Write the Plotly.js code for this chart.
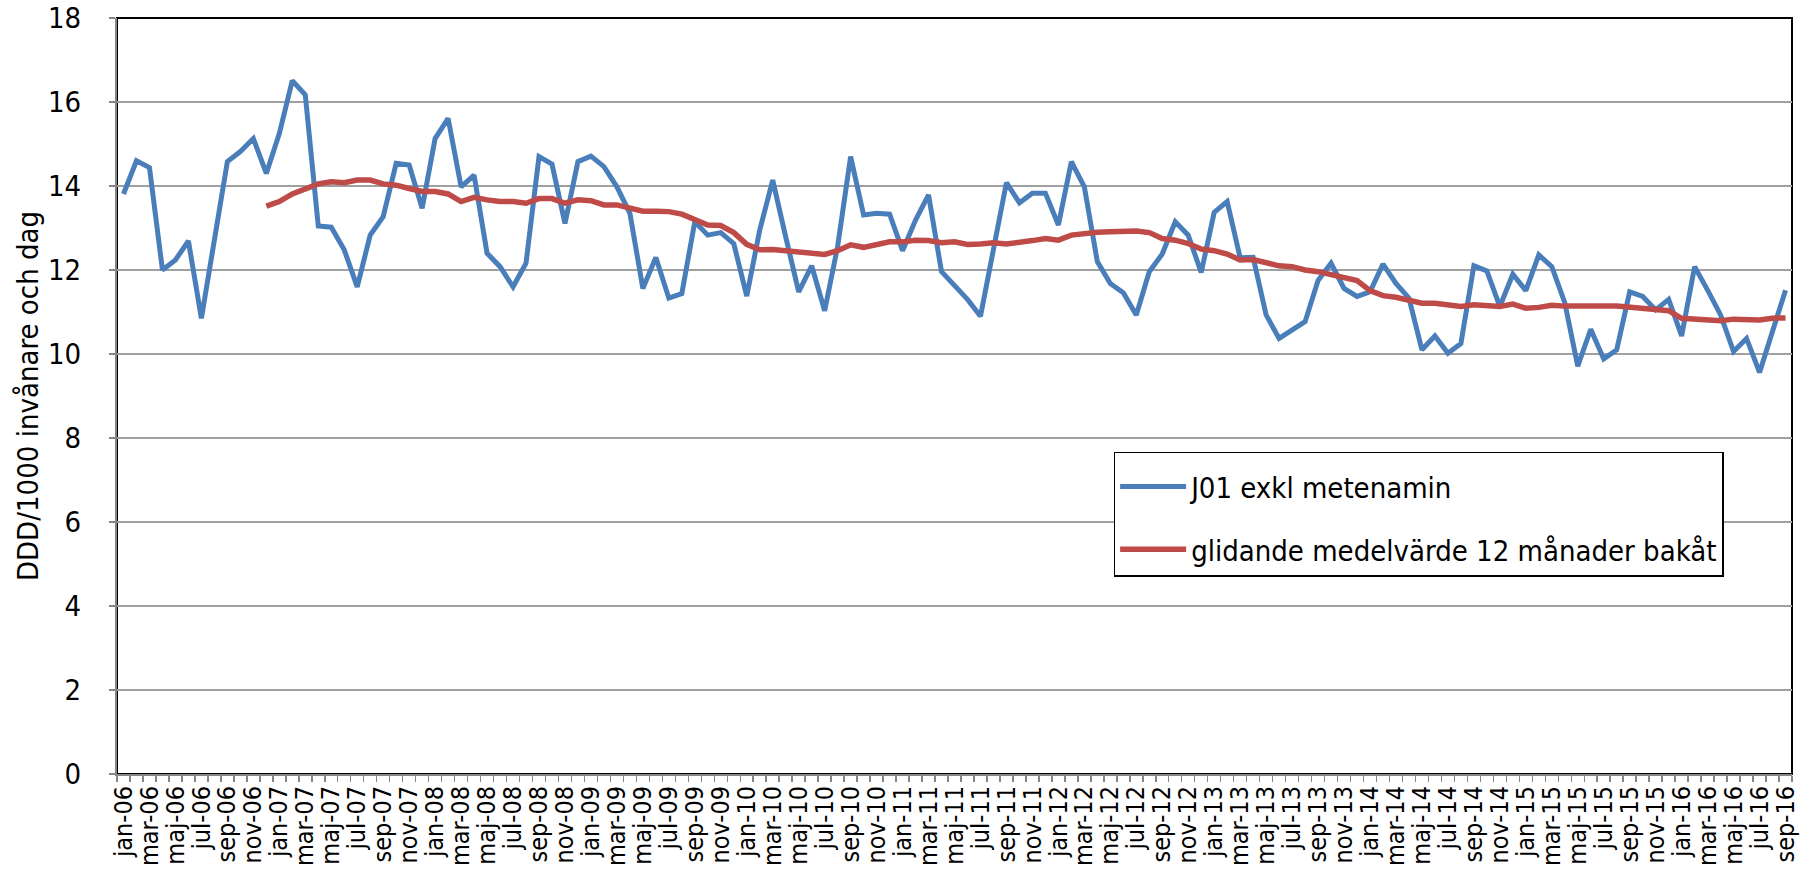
<!DOCTYPE html>
<html>
<head>
<meta charset="utf-8">
<script src="https://cdn.plot.ly/plotly-3.0.1.min.js"></script>
<style>
  html, body { margin: 0; padding: 0; background: #ffffff; }
  #chart { width: 1812px; height: 870px; }
</style>
</head>
<body>
<div id="chart"></div>
<script>
// Month categories jan-06 ... sep-16
const monthNames = ["jan","feb","mar","apr","maj","jun","jul","aug","sep","okt","nov","dec"];
const years = ["06","07","08","09","10","11","12","13","14","15","16"];
const months = [];
years.forEach(function (yy) {
  monthNames.forEach(function (m) {
    if (months.length < 129) months.push(m + "-" + yy);
  });
});

// J01 exkl metenamin (DDD/1000 invånare och dag), jan-06 .. sep-16
const j01 = [
  13.81, 14.60, 14.44, 12.00, 12.24, 12.69, 10.85, 12.67, 14.58, 14.82, 15.13, 14.30,
  15.25, 16.51, 16.17, 13.05, 13.02, 12.48, 11.60, 12.83, 13.27, 14.54, 14.50, 13.47,
  15.13, 15.61, 13.98, 14.26, 12.40, 12.08, 11.60, 12.16, 14.70, 14.52, 13.11, 14.58,
  14.71, 14.46, 13.98, 13.35, 11.56, 12.30, 11.33, 11.44, 13.15, 12.83, 12.89, 12.63,
  11.38, 12.95, 14.14, 12.79, 11.48, 12.10, 11.03, 12.56, 14.70, 13.31, 13.35, 13.33,
  12.46, 13.19, 13.79, 11.96, 11.64, 11.30, 10.90, 12.56, 14.08, 13.60, 13.83, 13.83,
  13.07, 14.58, 13.98, 12.20, 11.68, 11.46, 10.93, 11.96, 12.38, 13.15, 12.83, 11.94,
  13.37, 13.63, 12.29, 12.30, 10.93, 10.37, 10.57, 10.77, 11.75, 12.16, 11.56, 11.37,
  11.48, 12.14, 11.68, 11.33, 10.10, 10.43, 10.02, 10.25, 12.10, 11.98, 11.13, 11.90,
  11.51, 12.36, 12.08, 11.22, 9.71, 10.59, 9.88, 10.10, 11.48, 11.37, 11.05, 11.30,
  10.43, 12.08, 11.52, 10.93, 10.06, 10.37, 9.56, 10.57, 11.52
];

// glidande medelvärde 12 månader bakåt (starts dec-06)
const moving = [
  null, null, null, null, null, null, null, null, null, null, null, 13.52,
  13.63, 13.81, 13.94, 14.05, 14.10, 14.08, 14.14, 14.14, 14.05, 14.02, 13.94, 13.87,
  13.87, 13.81, 13.63, 13.73, 13.67, 13.63, 13.63, 13.59, 13.70, 13.70, 13.59, 13.67,
  13.65, 13.55, 13.55, 13.47, 13.40, 13.40, 13.39, 13.33, 13.21, 13.07, 13.06, 12.89,
  12.61, 12.48, 12.49, 12.46, 12.44, 12.43, 12.37, 12.46, 12.60, 12.54, 12.61, 12.67,
  12.67, 12.71, 12.70, 12.65, 12.67, 12.61, 12.62, 12.65, 12.62, 12.65, 12.70, 12.75,
  12.71, 12.83, 12.87, 12.90, 12.91, 12.93, 12.93, 12.89, 12.75, 12.71, 12.63, 12.50,
  12.46, 12.38, 12.24, 12.25, 12.18, 12.10, 12.08, 12.00, 11.96, 11.88, 11.80, 11.75,
  11.51, 11.39, 11.35, 11.27, 11.21, 11.21, 11.17, 11.13, 11.17, 11.16, 11.13, 11.19,
  11.09, 11.11, 11.16, 11.14, 11.13, 11.14, 11.14, 11.14, 11.11, 11.07, 11.07, 11.03,
  10.85, 10.83, 10.79, 10.79, 10.83, 10.81, 10.81, 10.85, 10.86
];

const seriesNames = ["J01 exkl metenamin", "glidande medelvärde 12 månader bakåt"];
const yTitle = "DDD/1000 invånare och dag";

const xIdx = months.map(function (_, i) { return i; });
const tickIdx = xIdx.filter(function (i) { return i % 2 === 0; });
const tickText = tickIdx.map(function (i) { return months[i]; });

const FONT = "'Liberation Sans Narrow', 'DejaVu Sans Condensed', 'Roboto Condensed', Roboto, sans-serif";

const traces = [
  {
    x: xIdx, y: j01, type: "scatter", mode: "lines", name: seriesNames[0],
    legendgroup: "a",
    line: { color: "#4A7EBB", width: 5 }, hoverinfo: "skip"
  },
  {
    x: xIdx, y: moving, type: "scatter", mode: "lines", name: seriesNames[1],
    legendgroup: "b",
    line: { color: "#BE4B48", width: 5.5 }, connectgaps: false, hoverinfo: "skip"
  }
];

const layout = {
  width: 1812, height: 870,
  paper_bgcolor: "#ffffff", plot_bgcolor: "#ffffff",
  margin: { l: 117, r: 20, t: 18, b: 96 },
  font: { family: FONT, color: "#000000" },
  showlegend: true,
  legend: {
    x: 0.595, y: 0.426, xanchor: "left", yanchor: "top",
    bgcolor: "#ffffff", bordercolor: "#000000", borderwidth: 1.5,
    font: { family: FONT, size: 29, color: "#000000" },
    traceorder: "grouped", tracegroupgap: 22, itemwidth: 66,
    title: { text: " ", font: { size: 6 } }
  },
  xaxis: {
    type: "linear", range: [-0.5, 128.5], fixedrange: true,
    tickmode: "array", tickvals: tickIdx, ticktext: tickText,
    tickangle: -90, ticks: "", showgrid: false, zeroline: false,
    tickfont: { family: FONT, size: 25, color: "#000000" },
    showline: true, linecolor: "#868686", linewidth: 2,
    minor: { tick0: -0.5, dtick: 1, ticks: "outside", ticklen: 6, tickcolor: "#868686", tickwidth: 1.5, showgrid: false }
  },
  yaxis: {
    range: [0, 18], dtick: 2, tick0: 0, fixedrange: true,
    showgrid: true, gridcolor: "#A0A0A0", gridwidth: 2, zeroline: false,
    showline: true, linecolor: "#868686", linewidth: 2,
    ticks: "outside", ticklen: 6, tickcolor: "#868686", tickwidth: 1.5,
    ticklabelstandoff: 22,
    tickfont: { family: FONT, size: 29, color: "#000000" },
    title: { text: yTitle, font: { family: FONT, size: 29, color: "#000000" }, standoff: 1 },
    automargin: false
  },
  shapes: [
    { type: "rect", xref: "paper", yref: "paper", x0: 0, x1: 1, y0: 0, y1: 1,
      line: { color: "#000000", width: 2 }, layer: "below", fillcolor: "rgba(0,0,0,0)" }
  ]
};

Plotly.newPlot("chart", traces, layout, { staticPlot: true, displayModeBar: false });
</script>
</body>
</html>
